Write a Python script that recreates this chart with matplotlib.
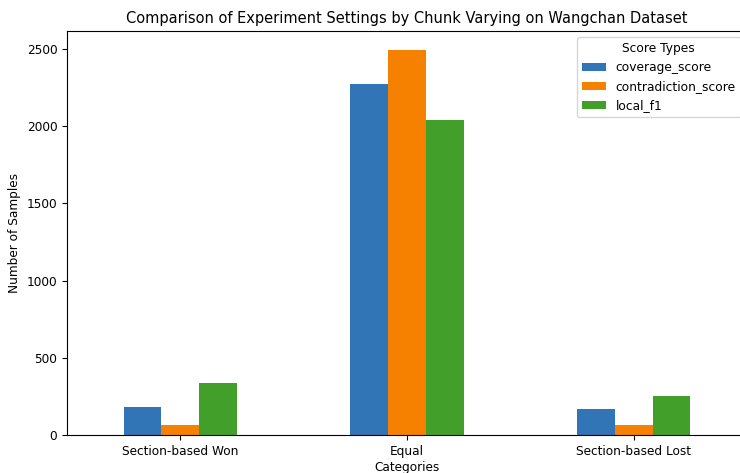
import numpy as np
import matplotlib
matplotlib.use("Agg")
import matplotlib.pyplot as plt

categorias = ["Section-based Won", "Equal", "Section-based Lost"]
series = ["coverage_score", "contradiction_score", "local_f1"]
coverage = [179, 2274, 168]
contradiction = [68, 2492, 66]
local_f1 = [334, 2041, 254]
colores = ["#3175b6", "#f68000", "#42a02a"]

valores = [coverage, contradiction, local_f1]

fig = plt.figure(figsize=(7.4, 4.73), dpi=100)
# el eje se sale un poco por la derecha, como en la captura original
ax = fig.add_axes([67 / 740, 38 / 473, 680 / 740, 404 / 473])

x = np.arange(len(categorias))
ancho = 0.5 / len(series)
for i, (nombre, vals) in enumerate(zip(series, valores)):
    ax.bar(x + (i - 1) * ancho, vals, width=ancho, color=colores[i], label=nombre)

ax.set_xlim(-0.5, len(categorias) - 0.5)
ax.set_xticks(x)
ax.set_xticklabels(categorias, fontsize=8.7)
ax.tick_params(axis="y", labelsize=8.7)
ax.set_xlabel("Categories", fontsize=8.7, labelpad=2)
ax.set_ylabel("Number of Samples", fontsize=8.7)
ax.set_title("Comparison of Experiment Settings by Chunk Varying on Wangchan Dataset", fontsize=10.5)
ax.legend(title="Score Types", loc="upper right", fontsize=8.8, title_fontsize=8.8)

fig.savefig("out.png", dpi=100)
